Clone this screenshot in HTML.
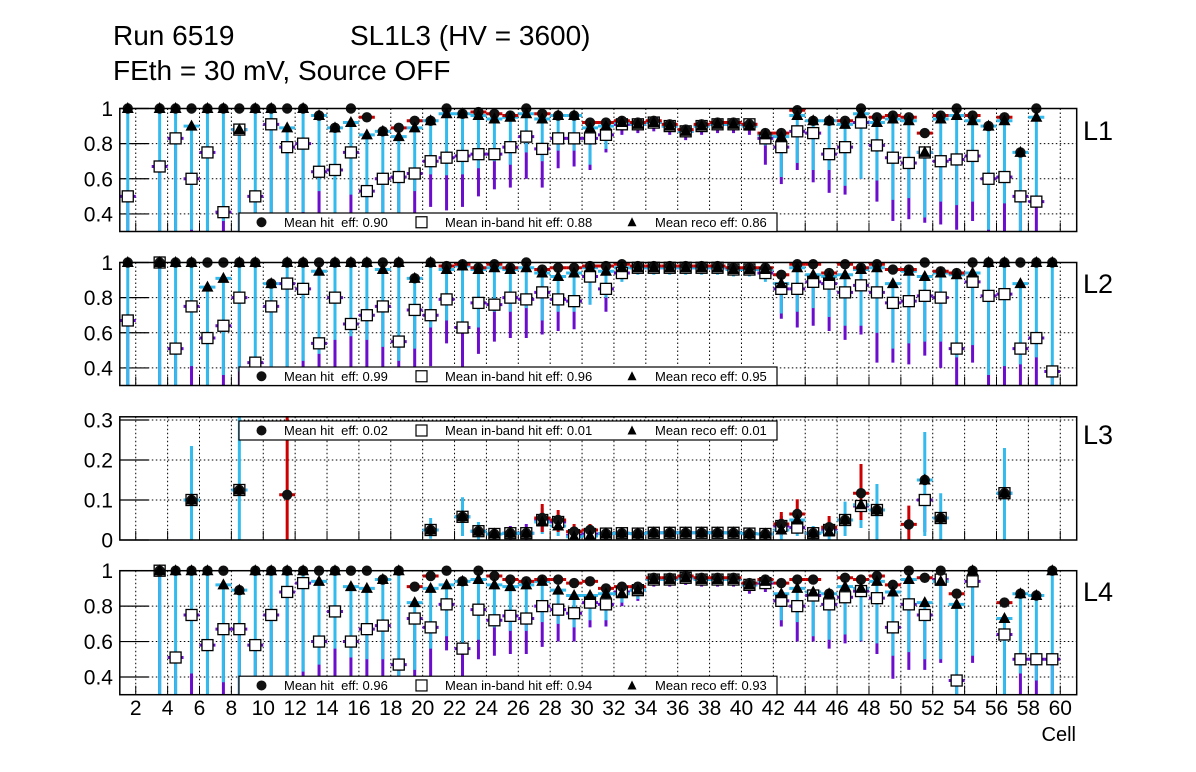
<!DOCTYPE html>
<html><head><meta charset="utf-8">
<style>
html,body{margin:0;padding:0;background:#fff;}
svg{display:block;font-family:"Liberation Sans",Arial,sans-serif;}
.pre{white-space:pre;}
</style></head>
<body>
<svg id="chart" width="1196" height="772" viewBox="0 0 1196 772" xmlns="http://www.w3.org/2000/svg">
<rect x="0" y="0" width="1196" height="772" fill="#fff"/>
<text x="113" y="45" font-size="28">Run 6519</text>
<text x="350" y="45" font-size="28">SL1L3 (HV = 3600)</text>
<text x="113" y="80" font-size="28">FEth = 30 mV, Source OFF</text>
<text x="1076" y="741" font-size="20" text-anchor="end">Cell</text>
<g id="plots"></g>
</svg>
<script>
// ---------- data (cell 1..59) ----------
const xTickLabels=['2','4','6','8','10','12','14','16','18','20','22','24','26','28','30','32','34','36','38','40','42','44','46','48','50','52','54','56','58','60'];
const effTicks=[0.4,0.6,0.8,1.0];
const effTickLabels=['0.4','0.6','0.8','1'];
const l3Ticks=[0,0.1,0.2,0.3];
const l3TickLabels=['0','0.1','0.2','0.3'];
const layerNames=['L1','L2','L3','L4'];
const meanHit=['0.90','0.99','0.02','0.96'];
const meanInband=['0.88','0.96','0.01','0.94'];
const meanReco=['0.86','0.95','0.01','0.93'];
const n=null;

// L1
const l1Hit=[1,n,1,1,1,1,1,1,1,1, 1,1,0.96,0.89,1,0.95,0.87,0.89,0.93,0.93, 1,0.97,0.98,0.97,0.96,1,0.97,0.96,0.96,0.92, 0.92,0.93,0.92,0.93,0.91,0.88,0.91,0.92,0.92,0.91, 0.86,0.86,0.99,0.93,0.93,0.93,1,0.95,0.96,0.95, 0.86,0.96,1,0.96,0.90,0.95,0.75,1,n];
const l1Inb=[0.5,n,0.67,0.83,0.60,0.75,0.41,0.88,0.50,0.91, 0.78,0.80,0.64,0.65,0.75,0.53,0.60,0.61,0.63,0.70, 0.72,0.73,0.74,0.74,0.78,0.84,0.77,0.83,0.83,0.83, 0.85,0.91,0.91,0.92,0.90,0.87,0.90,0.91,0.91,0.91, 0.83,0.78,0.87,0.86,0.74,0.78,0.92,0.79,0.72,0.69, 0.75,0.70,0.71,0.73,0.60,0.61,0.50,0.47,n];
const l1Reco=[1,n,1,1,0.90,1,1,0.88,1,1, 0.89,1,0.96,0.89,0.92,0.85,0.87,0.84,0.89,0.93, 0.97,0.97,0.96,0.94,0.95,0.97,0.94,0.96,0.96,0.89, 0.90,0.92,0.91,0.92,0.90,0.87,0.90,0.91,0.91,0.90, 0.85,0.84,0.96,0.93,0.93,0.91,0.97,0.92,0.94,0.93, 0.75,0.94,0.96,0.93,0.90,0.93,0.75,0.95,n];
const l1RecoLo=[0,n,0,0,0.31,0,0.36,0,0,0, 0,0.41,0.53,0.375,0.51,0.36,0,0.36,0.53,0.625, 0.62,0.625,0.66,0.70,0.68,0.75,0.70,0.76,0.76,0.68, 0.77,0.88,0.89,0.90,0.88,0.85,0.88,0.89,0.89,0.88, 0.79,0.61,0.69,0.65,0.65,0.56,0.60,0.59,0.48,0.49, 0.38,0.47,0.45,0.47,0.31,0.46,0,0.44,n];
const l1InbLo=[0,n,0,0,0.3,0,0.3,0,0,0, 0,0.35,0.37,0.35,0.37,0.3,0,0.3,0.35,0.44, 0.42,0.44,0.50,0.54,0.55,0.60,0.55,0.66,0.67,0.65, 0.75,0.85,0.86,0.87,0.85,0.82,0.85,0.86,0.86,0.85, 0.68,0.57,0.65,0.58,0.52,0.51,0.60,0.47,0.36,0.37, 0.35,0.34,0.31,0.36,0.3,0.3,0,0.3,n];

// L2
const l2Hit=[1,n,1,1,1,1,1,1,1,0.88, 1,1,1,1,1,1,1,1,0.91,1, 0.98,0.99,0.97,0.99,0.97,1,0.96,0.97,0.97,0.98, 0.98,0.99,0.98,0.98,0.98,0.98,0.98,0.98,0.97,0.97, 0.97,0.93,0.99,0.99,0.94,0.99,0.97,0.99,0.96,0.96, 1,0.95,0.94,1,1,1,1,1,1];
const l2Inb=[0.67,n,1,0.51,0.75,0.57,0.64,0.80,0.43,0.75, 0.88,0.85,0.54,0.80,0.65,0.70,0.75,0.55,0.73,0.70, 0.79,0.63,0.77,0.76,0.80,0.79,0.83,0.79,0.78,0.92, 0.85,0.94,0.97,0.97,0.97,0.97,0.97,0.97,0.96,0.96, 0.94,0.85,0.85,0.89,0.88,0.83,0.87,0.83,0.77,0.78, 0.81,0.80,0.51,0.89,0.81,0.82,0.51,0.57,0.38];
const l2Reco=[1,n,1,1,1,0.86,0.91,1,1,0.88, 1,1,0.95,1,1,1,0.96,1,0.91,1, 0.96,0.98,0.96,0.97,0.96,0.97,0.94,0.92,0.94,0.97, 0.95,0.97,0.97,0.97,0.97,0.97,0.97,0.97,0.96,0.96, 0.96,0.88,0.97,0.93,0.92,0.93,0.96,0.97,0.88,0.95, 0.92,0.94,0.93,0.94,1,1,0.88,1,1];
const l2RecoLo=[0,n,0,0,0.41,0,0.36,0.38,0,0, 0,0.44,0.48,0.56,0.58,0.56,0.52,0.44,0.51,0.63, 0.67,0.61,0.63,0.72,0.72,0.74,0.67,0.72,0.72,0.76, 0.80,0.89,0.93,0.93,0.93,0.93,0.93,0.93,0.92,0.92, 0.89,0.71,0.72,0.74,0.69,0.64,0.64,0.60,0.51,0.54, 0.55,0.55,0.46,0.53,0.36,0.41,0.42,0.46,0];
const l2InbLo=[0,n,0,0,0.3,0,0.3,0.3,0,0, 0,0.3,0.3,0.3,0.3,0.3,0.3,0.3,0.3,0.41, 0.54,0.38,0.48,0.55,0.57,0.57,0.59,0.61,0.62,0.76, 0.72,0.91,0.95,0.95,0.95,0.95,0.95,0.95,0.94,0.94, 0.91,0.68,0.63,0.64,0.61,0.56,0.59,0.43,0.43,0.42, 0.47,0.40,0,0.43,0,0,0,0,0];

// L3
const l3Hit=[n,n,n,n,0.10,n,n,0.125,n,n, 0.113,n,n,n,n,n,n,n,n,0.025, n,0.058,0.022,0.015,0.017,0.017,0.055,0.05,0.021,0.025, 0.016,0.017,0.016,0.018,0.018,0.018,0.018,0.018,0.018,0.016, 0.015,0.04,0.065,0.017,0.032,0.05,0.117,0.075,n,0.039, 0.15,0.055,n,n,n,0.117,n,n,n];
const l3Inb=[n,n,n,n,0.10,n,n,0.125,n,n, n,n,n,n,n,n,n,n,n,0.025, n,0.058,0.022,0.015,0.017,0.017,0.05,0.045,0.012,0.015, 0.016,0.017,0.016,0.018,0.018,0.018,0.018,0.018,0.018,0.016, 0.015,0.035,0.031,0.017,0.025,0.05,0.085,0.075,n,n, 0.10,0.055,n,n,n,0.117,n,n,n];
const l3Reco=[n,n,n,n,0.10,n,n,0.125,n,n, n,n,n,n,n,n,n,n,n,0.025, n,0.058,0.022,0.015,0.017,0.017,0.045,0.035,0.008,0.01, 0.016,0.017,0.016,0.018,0.018,0.018,0.018,0.018,0.018,0.016, 0.015,0.025,0.05,0.017,0.02,0.05,0.088,0.075,n,n, 0.15,0.055,n,n,n,0.117,n,n,n];
const l3RecoLo=[n,n,n,n,0,n,n,0,n,n, n,n,n,n,n,n,n,n,n,0.003, n,0.01,0,0,0.005,0.005,0.015,0.01,0,0, 0.005,0.005,0.005,0.005,0.005,0.005,0.005,0.005,0.005,0.005, 0.005,0,0.01,0,0,0.01,0.03,0,n,n, 0.01,0,n,n,n,0,n,n,n];
const l3RecoHi=[n,n,n,n,0.235,n,n,0.31,n,n, n,n,n,n,n,n,n,n,n,0.055, n,0.107,0.045,0.03,0.03,0.03,0.08,0.06,0.02,0.025, 0.028,0.028,0.028,0.028,0.028,0.028,0.028,0.028,0.028,0.028, 0.028,0.05,0.08,0.035,0.035,0.096,0.15,0.14,n,n, 0.27,0.117,n,n,n,0.23,n,n,n];
const l3HitLo=[n,n,n,n,n,n,n,n,n,n, 0,n,n,n,n,n,n,n,n,n, n,n,n,n,n,n,0.02,0.02,0,0.005, n,n,n,n,n,n,n,n,n,n, n,0.015,0.02,n,0.01,n,0.05,n,n,0, n,n,n,n,n,n,n,n,n];
const l3HitHi=[n,n,n,n,n,n,n,n,n,n, 0.31,n,n,n,n,n,n,n,n,n, n,n,n,n,n,n,0.09,0.075,0.04,0.04, n,n,n,n,n,n,n,n,n,n, n,0.07,0.102,n,0.06,n,0.19,n,n,0.086, n,n,n,n,n,n,n,n,n];
const l3InbLo=[n,n,n,n,n,n,n,n,n,n, n,n,n,n,n,n,n,n,n,n, n,n,n,n,0,0,0.02,n,n,n, n,n,n,n,n,n,n,n,n,n, n,0.01,n,n,n,n,n,n,n,n, 0.02,n,n,n,n,n,n,n,n];
const l3InbHi=[n,n,n,n,n,n,n,n,n,n, n,n,n,n,n,n,n,n,n,n, n,n,n,n,0.035,0.04,0.07,n,n,n, n,n,n,n,n,n,n,n,n,n, n,0.06,n,n,n,n,n,n,n,n, 0.11,n,n,n,n,n,n,n,n];

// L4
const l4Hit=[n,n,1,1,1,1,1,0.89,1,1, 1,1,1,1,1,1,0.95,1,0.91,0.97, 1,0.94,1,0.97,0.95,0.94,0.95,0.95,0.93,0.94, 0.90,0.91,0.91,0.96,0.96,0.97,0.96,0.96,0.96,0.93, 0.95,0.93,0.95,0.95,0.87,0.96,0.95,0.97,0.92,1, 0.96,1,0.87,1,n,0.82,0.87,0.86,1];
const l4Inb=[n,n,1,0.51,0.75,0.58,0.67,0.67,0.58,0.75, 0.88,0.93,0.60,0.77,0.60,0.67,0.69,0.47,0.73,0.68, 0.81,0.56,0.78,0.72,0.745,0.73,0.80,0.78,0.76,0.82, 0.81,0.88,0.89,0.95,0.95,0.96,0.95,0.95,0.95,0.92, 0.93,0.83,0.80,0.86,0.81,0.85,0.885,0.845,0.68,0.81, 0.75,0.95,0.38,0.94,n,0.64,0.50,0.50,0.50];
const l4Reco=[n,n,1,1,1,1,0.92,0.89,1,1, 1,1,0.94,1,0.91,0.90,0.95,1,0.82,0.90, 0.92,0.94,0.95,0.92,0.91,0.92,0.94,0.89,0.86,0.86, 0.87,0.87,0.89,0.95,0.95,0.96,0.95,0.95,0.95,0.92, 0.94,0.87,0.90,0.88,0.87,0.91,0.90,0.94,0.88,0.95, 0.82,0.94,0.81,1,n,0.73,0.87,0.86,1];
const l4RecoLo=[n,n,0,0,0.42,0,0.37,0,0,0, 0,0.43,0.47,0.56,0.51,0.50,0.50,0,0.44,0.56, 0.63,0.59,0.61,0.68,0.66,0.66,0.71,0.70,0.68,0.72, 0.72,0.82,0.84,0.93,0.93,0.94,0.93,0.93,0.93,0.89, 0.90,0.72,0.71,0.63,0.61,0.64,0.605,0.59,0.52,0.54, 0.50,0.50,0,0.52,n,0,0.42,0.38,0];
const l4InbLo=[n,n,0,0,0,0,0,0,0,0, 0,0,0,0,0,0,0,0,0,0, 0.55,0,0.50,0.52,0.53,0.53,0.57,0.60,0.60,0.68, 0.685,0.80,0.83,0.91,0.91,0.92,0.91,0.91,0.91,0.87, 0.88,0.685,0.60,0.60,0.56,0.59,0.60,0.53,0.39,0.44, 0.44,0.48,0,0.48,n,0,0,0,0];

// ---------- drawing ----------
const NS='http://www.w3.org/2000/svg';
const FX0=119.8, CELLW=15.94, FRIGHT=1076.7;
function X(v){return FX0+(v-1)*CELLW;}
const panels=[
 {top:108.5,h:123,ymin:0.3,ymax:1.0,ticks:effTicks,lbl:effTickLabels,hit:l1Hit,inb:l1Inb,reco:l1Reco,recoLo:l1RecoLo,inbLo:l1InbLo,legTop:false,ly:140},
 {top:262.5,h:123,ymin:0.3,ymax:1.0,ticks:effTicks,lbl:effTickLabels,hit:l2Hit,inb:l2Inb,reco:l2Reco,recoLo:l2RecoLo,inbLo:l2InbLo,legTop:false,ly:293},
 {top:416.8,h:123.2,ymin:0,ymax:0.308,ticks:l3Ticks,lbl:l3TickLabels,hit:l3Hit,inb:l3Inb,reco:l3Reco,recoLo:l3RecoLo,recoHi:l3RecoHi,hitLo:l3HitLo,hitHi:l3HitHi,inbLo:l3InbLo,inbHi:l3InbHi,legTop:true,ly:444},
 {top:570.7,h:124,ymin:0.3,ymax:1.0,ticks:effTicks,lbl:effTickLabels,hit:l4Hit,inb:l4Inb,reco:l4Reco,recoLo:l4RecoLo,inbLo:l4InbLo,legTop:false,ly:601}
];
const root=document.getElementById('plots');
function mk(tag,attrs,parent){const e=document.createElementNS(NS,tag);for(const k in attrs)e.setAttribute(k,attrs[k]);(parent||root).appendChild(e);return e;}

panels.forEach((p,pi)=>{
 const Y=v=>p.top+p.h*(p.ymax-v)/(p.ymax-p.ymin);
 const bot=p.top+p.h;
 const g=mk('g',{});
 
 
 const cp=mk('clipPath',{id:'cp'+pi},g);
 mk('rect',{x:FX0,y:p.top-8,width:FRIGHT-FX0,height:p.h+8},cp);
 for(let c=2;c<=60;c+=2){
   const gl=mk('line',{x1:X(c),x2:X(c),y1:p.top,y2:bot,stroke:'#000','stroke-width':1,'stroke-dasharray':'1.5,2.5'},g);
   
   
   const tk=mk('line',{x1:X(c),x2:X(c),y1:bot,y2:bot-9,stroke:'#000','stroke-width':1},g);
   
   
 }
 p.ticks.forEach((t,i)=>{
   const y=Y(t);
   if(y>p.top+2&&y<bot-2){
     const hl=mk('line',{x1:FX0,x2:FRIGHT,y1:y,y2:y,stroke:'#000','stroke-width':1,'stroke-dasharray':'1.5,2.5'},g);
     
     
   }
   const tk=mk('line',{x1:FX0,x2:FX0+29,y1:y,y2:y,stroke:'#000','stroke-width':1.2},g);
   
   
   const tl=mk('text',{x:113,y:y+7.5,'font-size':21,'text-anchor':'end'},g);
   tl.textContent=p.lbl[i];
   
   
 });
 const ser=mk('g',{'clip-path':'url(#cp'+pi+')'},g);
 
 
 function vbar(cx,lo,hi,col,name){
   if(lo==null||hi==null)return;
   const y1=Y(Math.min(hi,p.ymax+0.05)), y2=Math.min(Y(lo),bot+2);
   if(y2-y1<0.5)return;
   const l=mk('line',{x1:cx,x2:cx,y1:y1,y2:y2,stroke:col,'stroke-width':3},ser);
   
   
 }
 function hbar(cx,v,col,name){
   if(v==null||v>=0.999)return;
   const l=mk('line',{x1:cx-CELLW/2,x2:cx+CELLW/2,y1:Y(v),y2:Y(v),stroke:col,'stroke-width':3},ser);
   
   
 }
 const N=p.hit.length;
 for(let i=0;i<N;i++){const cx=X(i+1.5);
   if(p.inb[i]==null)continue;
   hbar(cx,p.inb[i],'#6a0dcc','inband-xerr');
   const lo=p.inbLo?p.inbLo[i]:null; const hi=p.inbHi?(p.inbHi[i]==null?p.inb[i]:p.inbHi[i]):p.inb[i];
   if(lo!=null)vbar(cx,lo,hi,'#6a0dcc','inband-yerr');
 }
 for(let i=0;i<N;i++){const cx=X(i+1.5);
   if(p.reco[i]==null)continue;
   hbar(cx,p.reco[i],'#33bbee','reco-xerr');
   const lo=p.recoLo?p.recoLo[i]:null; const hi=p.recoHi?(p.recoHi[i]==null?p.reco[i]:p.recoHi[i]):p.reco[i];
   if(lo!=null)vbar(cx,lo,hi,'#33bbee','reco-yerr');
 }
 for(let i=0;i<N;i++){const cx=X(i+1.5);
   if(p.hit[i]==null)continue;
   if(p.reco[i]==null||Math.abs(p.hit[i]-p.reco[i])>0.004)hbar(cx,p.hit[i],'#cc0000','hit-xerr');
   if(p.hitLo&&p.hitLo[i]!=null)vbar(cx,p.hitLo[i],p.hitHi[i],'#cc0000','hit-yerr');
 }
 for(let i=0;i<N;i++){const cx=X(i+1.5);
   if(p.inb[i]==null)continue;
   const s=mk('rect',{x:cx-5.5,y:Y(p.inb[i])-5.5,width:11,height:11,fill:'#fff',stroke:'#000','stroke-width':1.3},ser);
   
   
 }
 for(let i=0;i<N;i++){const cx=X(i+1.5);
   if(p.hit[i]==null)continue;
   const c=mk('circle',{cx:cx,cy:Y(p.hit[i]),r:5.2,fill:'#111'},ser);
   
   
 }
 for(let i=0;i<N;i++){const cx=X(i+1.5);
   if(p.reco[i]==null)continue;
   const y=Y(p.reco[i]);
   const t=mk('polygon',{points:`${cx},${y-6.5} ${cx-6},${y+4.5} ${cx+6},${y+4.5}`,fill:'#000'},ser);
   
   
 }
 const fr=mk('rect',{x:FX0,y:p.top,width:FRIGHT-FX0,height:p.h,fill:'none',stroke:'#000','stroke-width':1.5},g);
 
 
 const ll=mk('text',{x:1083,y:p.ly,'font-size':27},g);
 ll.textContent=layerNames[pi];
 
 
 const ly=p.legTop?421:bot-18.5, lh=p.legTop?19:18.5;
 const lg=mk('g',{},g);
 
 
 mk('rect',{x:239,y:ly,width:538,height:lh,fill:'#fff',stroke:'#000','stroke-width':1.2},lg);
 const cy=ly+lh/2;
 mk('circle',{cx:261.5,cy:cy,r:5,fill:'#111'},lg);
 const t1=mk('text',{x:284,y:cy+4.5,'font-size':13,'class':'pre'},lg);
 t1.textContent='Mean hit  eff: '+meanHit[pi];
 
 
 mk('rect',{x:416,y:cy-5.5,width:11,height:11,fill:'#fff',stroke:'#000','stroke-width':1.2},lg);
 const t2=mk('text',{x:445,y:cy+4.5,'font-size':13},lg);
 t2.textContent='Mean in-band hit eff: '+meanInband[pi];
 
 
 mk('polygon',{points:`632,${cy-5} 627.5,${cy+4} 636.5,${cy+4}`,fill:'#000'},lg);
 const t3=mk('text',{x:655,y:cy+4.5,'font-size':13},lg);
 t3.textContent='Mean reco eff: '+meanReco[pi];
 
 
});
xTickLabels.forEach(s=>{
 const t=mk('text',{x:X(+s),y:715,'font-size':21,'text-anchor':'middle'});
 t.textContent=s;
 
 
});
</script>
</body></html>
